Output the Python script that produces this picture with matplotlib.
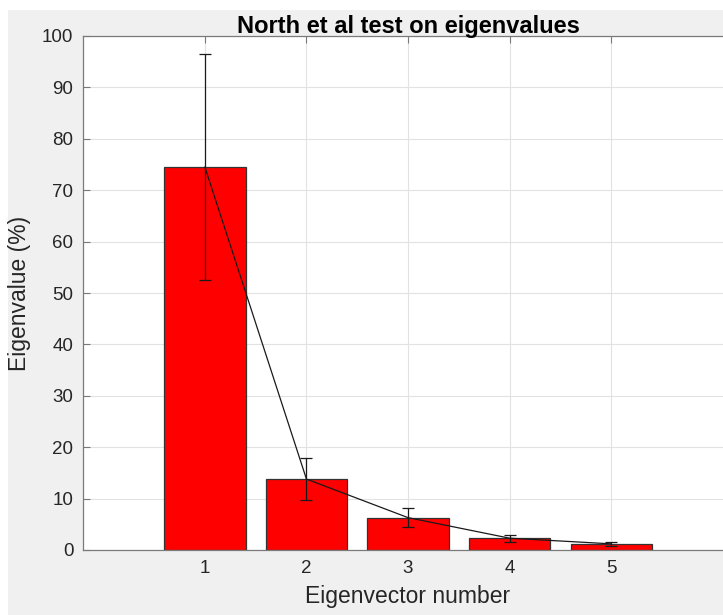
import matplotlib
matplotlib.use('Agg')
import matplotlib.pyplot as plt
import matplotlib.patches as mpatches

# data
modes = [1, 2, 3, 4, 5]
eigval = [74.5, 13.8, 6.3, 2.3, 1.2]
err = [22.0, 4.1, 1.9, 0.7, 0.4]
yticks = list(range(0, 101, 10))

plt.rcParams['font.family'] = ['Liberation Sans', 'DejaVu Sans']
BG, TXT, AXC = '#f0f0f0', '#262626', '#7a7a7a'

fig = plt.figure(figsize=(7.23, 6.15), dpi=100, facecolor='white')
# screenshot-style grey panel with thin white margin top/left
fig.add_artist(mpatches.Rectangle((8/723, 0), 1, 1 - 10/615, transform=fig.transFigure,
                                  facecolor=BG, edgecolor='none', zorder=-5))

ax = fig.add_axes([83/723, 65/615, 650/723, 514/615])
ax.set_zorder(2)
ax.set_facecolor('white')
ax.bar(modes, eigval, width=0.8, color='#ff0000', edgecolor='#333333', linewidth=0.9, zorder=2)
ax.errorbar(modes, eigval, yerr=err, fmt='none', ecolor='#1a1a1a', elinewidth=0.9,
            capsize=4.5, capthick=0.9, zorder=3)
ax.plot(modes, eigval, color='#1a1a1a', lw=0.9, zorder=4)

ax.set_xlim(-0.2, 6.2); ax.set_ylim(0, 100)
ax.set_xticks(modes); ax.set_yticks(yticks)
ax.tick_params(direction='in', length=5, width=0.8, color=AXC, labelcolor=TXT, labelsize=13.5,
               top=True, right=True, pad=7)
ax.grid(True, color='#e2e2e2', linewidth=0.8, zorder=0)
ax.set_axisbelow(True)
for s in ax.spines.values():
    s.set_color(AXC); s.set_linewidth(0.9)

ax.set_title('North et al test on eigenvalues', fontsize=17, fontweight='bold', color='black', pad=2)
ax.set_xlabel('Eigenvector number', fontsize=16.5, color=TXT, labelpad=6)
ax.set_ylabel('Eigenvalue (%)', fontsize=16.5, color=TXT, labelpad=8)

plt.savefig('out.png', dpi=100, facecolor=fig.get_facecolor())
plt.close()
